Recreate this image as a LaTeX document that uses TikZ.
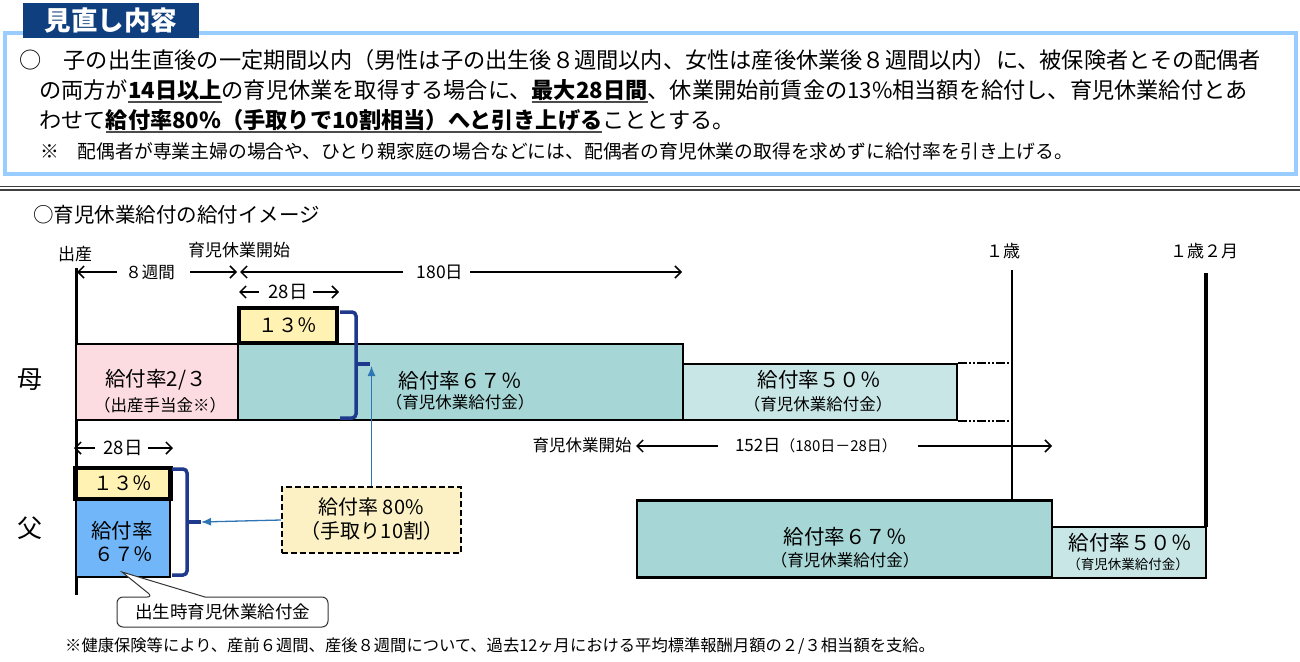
\documentclass[tikz,border=0pt]{standalone}
\usepackage{fontspec}
\setmainfont{Noto Sans CJK JP}
\usetikzlibrary{arrows.meta}
\definecolor{tabblue}{HTML}{0F3F7F}
\definecolor{frameblue}{HTML}{99CCFF}
\definecolor{pinkf}{HTML}{FCDCE0}
\definecolor{tealf}{HTML}{A6D6D5}
\definecolor{lteal}{HTML}{C9E6E6}
\definecolor{yel}{HTML}{FFF2B3}
\definecolor{dyel}{HTML}{FCF1C4}
\definecolor{fblue}{HTML}{70B6F8}
\definecolor{navy}{HTML}{1F3A8C}
\definecolor{arrblue}{HTML}{2E75B6}
\newcommand{\ulb}[1]{\setbox0\hbox{\bfseries #1}\rlap{\textcolor{black!70}{\rule[-4.5pt]{\wd0}{1.8pt}}}\box0}
\begin{document}
\begin{tikzpicture}[x=1pt,y=-1pt,
  txt/.style={inner sep=0pt,font=\fontsize{#1}{#1}\selectfont},
  bx/.style={draw=black,line width=2.5pt,inner sep=0pt},
  pct/.style={draw=black,line width=4.5pt,fill=yel,inner sep=0pt},
  ar/.style={line width=1.5pt,-{Straight Barb[length=6pt,width=12pt]}},
  brc/.style={draw=navy,line width=3.5pt,rounded corners=4pt},
  blar/.style={draw=arrblue,line width=1.3pt,-{Latex[length=10pt,width=8pt]}},
  ddot/.style={line width=2pt,dash pattern=on 9pt off 2pt on 2pt off 2pt on 2pt off 2pt},
  vline/.style={draw=black}]
\useasboundingbox (0,0) rectangle (1300,661);
% ---- header frame
\draw[frameblue,line width=4pt,fill=white] (4.5,33) rectangle (1296,174);
\node[fill=tabblue,minimum width=176pt,minimum height=35pt,inner sep=0pt,anchor=north west] (tab) at (23,3) {};
\node[txt=26,text=white,font=\fontsize{26.5}{26.5}\selectfont\bfseries] (tabt) at (tab.center) {見直し内容};
\node[txt=22.2,anchor=base west] (l1) at (19,69) {○　子の出生直後の一定期間以内（男性は子の出生後８週間以内、女性は産後休業後８週間以内）に、被保険者とその配偶者};
\node[txt=22.2,anchor=base west] (l2) at (39,98.5) {の両方が\ulb{14日以上}の育児休業を取得する場合に、\ulb{最大28日間}、休業開始前賃金の13\%相当額を給付し、育児休業給付とあ};
\node[txt=22.2,anchor=base west] (l3) at (39,128.5) {わせて\ulb{給付率80\%（手取りで10割相当）へと引き上げる}こととする。};
\node[txt=18.8,anchor=base west] (l4) at (40,158) {※　配偶者が専業主婦の場合や、ひとり親家庭の場合などには、配偶者の育児休業の取得を求めずに給付率を引き上げる。};
% ---- separator
\draw[black!75,line width=1.6pt] (0,186.5) -- (1300,186.5);
\draw[black!75,line width=1.2pt] (0,190) -- (1300,190);
\node[txt=20.5,anchor=west] (title) at (33,215) {○育児休業給付の給付イメージ};
% ---- top labels
\node[txt=17] (birth) at (75,254) {出産};
\node[txt=17] (start1) at (239,250) {育児休業開始};
\node[txt=17] (age1) at (1003,251) {１歳};
\node[txt=17] (age12) at (1204,251) {１歳２月};
% ---- vertical lines
\coordinate (b0) at (76,268); \coordinate (b1) at (76,595);
\coordinate (y0) at (1012,270); \coordinate (y1) at (1012,501);
\coordinate (z0) at (1206,273); \coordinate (z1) at (1206,527);
\draw[vline,line width=3pt] (b0) -- (b1);
\draw[vline,line width=2.2pt] (y0) -- (y1);
\draw[vline,line width=4pt] (z0) -- (z1);
% ---- dimension arrows (mother)
\node[txt=16.5] (w8) at (150,272) {８週間};
\coordinate (a1s) at (117,272); \coordinate (a1e) at (77,272);
\coordinate (a2s) at (190,272); \coordinate (a2e) at (237,272);
\draw[ar] (a1s) -- (a1e);
\draw[ar] (a2s) -- (a2e);
\node[txt=17.5] (d180) at (440,272) {180日};
\coordinate (a3s) at (403,272); \coordinate (a3e) at (240,272);
\coordinate (a4s) at (470,272); \coordinate (a4e) at (682,272);
\draw[ar] (a3s) -- (a3e);
\draw[ar] (a4s) -- (a4e);
\node[txt=18.5] (d28m) at (288,292) {28日};
\coordinate (a5s) at (259,292); \coordinate (a5e) at (239,292);
\coordinate (a6s) at (313,292); \coordinate (a6e) at (339,292);
\draw[ar] (a5s) -- (a5e);
\draw[ar] (a6s) -- (a6e);
% ---- mother row
\node[txt=25] (mom) at (30,380) {母};
\node[bx,fill=pinkf,minimum width=162pt,minimum height=76pt] (mb1) at (157,382) {};
\node[bx,fill=tealf,minimum width=445pt,minimum height=76pt] (mb2) at (460.5,382) {};
\node[bx,fill=lteal,minimum width=274pt,minimum height=56pt] (mb3) at (820,392) {};
\node[pct,minimum width=98pt,minimum height=35pt] (mp) at (288,325.5) {};
\node[txt=19.5] (mpt) at (mp.center) {１３％};
\node[txt=20.5] (mb1a) at (156,380) {給付率2/３};
\node[txt=16.5] (mb1b) at (160,405) {（出産手当金※）};
\node[txt=20.5] (mb2a) at (460,381) {給付率６７％};
\node[txt=16.5] (mb2b) at (460,402) {（育児休業給付金）};
\node[txt=20.5] (mb3a) at (819,380) {給付率５０％};
\node[txt=16.5] (mb3b) at (818,404) {（育児休業給付金）};
\draw[ddot] (mb3.north east) -- (mb3.north east -| y0);
\draw[ddot] (mb3.south east) -- (mb3.south east -| y0);
% mother brace
\draw[brc] (340,312) -- (356,312) -- (356,418) -- (340,418);
\coordinate (bm) at (370,364);
\draw[navy,line width=3.5pt] (356,364) -- (bm);
% ---- father row
\node[txt=25] (dad) at (30,528) {父};
\node[txt=18.5] (d28f) at (123,448) {28日};
\coordinate (f1s) at (95,448); \coordinate (f1e) at (74,448);
\coordinate (f2s) at (148,448); \coordinate (f2e) at (173,448);
\draw[ar] (f1s) -- (f1e);
\draw[ar] (f2s) -- (f2e);
\node[bx,fill=fblue,minimum width=94pt,minimum height=77pt] (fb1) at (123,538.5) {};
\node[pct,minimum width=95pt,minimum height=31pt] (fp) at (123,483.5) {};
\node[txt=19.5] (fpt) at (fp.center) {１３％};
\node[txt=20.5] (fb1a) at (122,531) {給付率};
\node[txt=19.5] (fb1b) at (124,554) {６７％};
\draw[brc] (172,469) -- (187,469) -- (187,575) -- (172,575);
\coordinate (bf) at (201,522);
\draw[navy,line width=3.5pt] (187,522) -- (bf);
% dashed box
\node[draw=black,line width=1.8pt,dash pattern=on 6pt off 3pt,fill=dyel,minimum width=179pt,minimum height=66pt,inner sep=0pt] (db) at (371.5,520) {};
\node[txt=20] (dba) at (371,507) {給付率 80\%};
\node[txt=20] (dbb) at (372,531) {（手取り10割）};
\coordinate (bm2) at (371.5,366);
\draw[blar] (db.north) -- (bm2);
\draw[blar] (db.west) -- (bf);
% callout
\coordinate (ctip) at (122,572);
\draw[black!80,line width=1pt,fill=white] (205,597) [rounded corners=6pt] -- (328,597) -- (328,627) -- (117,627) -- (117,597) -- (153,597) [sharp corners] -- (ctip) -- cycle;
\node[txt=17.5] (cl) at (222.5,612) {出生時育児休業給付金};
% father right
\node[txt=16.5] (start2) at (582,445) {育児休業開始};
\node[inner sep=0pt] (d152) at (816,446) {\fontsize{17}{17}\selectfont 152日\fontsize{15}{15}\selectfont（180日－28日）};
\coordinate (g1s) at (718,446); \coordinate (g1e) at (636,446);
\coordinate (g2s) at (918,446); \coordinate (g2e) at (1052,446);
\draw[ar] (g1s) -- (g1e);
\draw[ar] (g2s) -- (g2e);
\node[bx,fill=tealf,minimum width=415pt,minimum height=77pt] (fb2) at (844.5,539) {};
\node[bx,fill=lteal,minimum width=154pt,minimum height=51pt] (fb3) at (1129,552.5) {};
\node[txt=20.5] (fb2a) at (845,537) {給付率６７％};
\node[txt=16.5] (fb2b) at (845,560) {（育児休業給付金）};
\node[txt=20.5] (fb3a) at (1130,543) {給付率５０％};
\node[txt=13.5] (fb3b) at (1128,564) {（育児休業給付金）};
% footnote
\node[txt=16.3,anchor=west] (foot) at (65,646) {※健康保険等により、産前６週間、産後８週間について、過去12ヶ月における平均標準報酬月額の２/３相当額を支給。};
\end{tikzpicture}
\end{document}
